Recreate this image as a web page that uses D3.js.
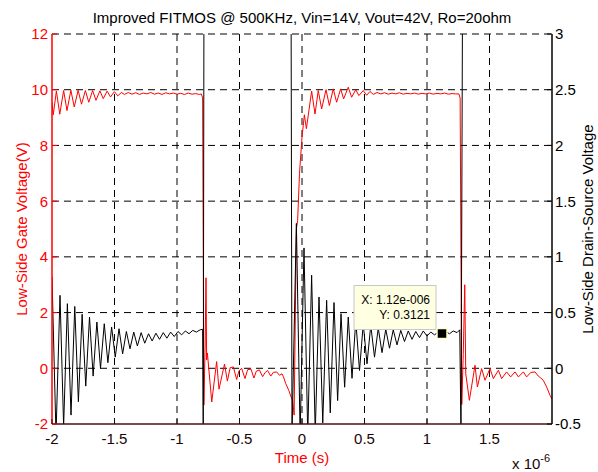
<!DOCTYPE html>
<html>
<head>
<meta charset="utf-8">
<script src="https://cdn.jsdelivr.net/npm/d3@7"></script>
<style>
  body { margin: 0; background: #fff; }
  svg { display: block; }
</style>
</head>
<body>
<svg></svg>
<script>
// time in microseconds (axis shows x 10^-6)
const gateTime = [
  -2.000, -1.990, -1.965, -1.938, -1.907, -1.880, -1.849, -1.822, -1.791, -1.764,
  -1.733, -1.706, -1.675, -1.648, -1.617, -1.590, -1.559, -1.532, -1.501, -1.474,
  -1.445, -1.420, -1.390, -1.360, -1.330, -1.300, -1.270, -1.240, -1.210, -1.180,
  -1.150, -1.120, -1.090, -1.060, -1.030, -1.000, -0.970, -0.940, -0.910, -0.880,
  -0.850, -0.820, -0.805, -0.795, -0.785, -0.775, -0.768, -0.763, -0.757, -0.722,
  -0.683, -0.664, -0.620, -0.597, -0.575, -0.549, -0.523, -0.505, -0.483, -0.456,
  -0.435, -0.408, -0.385, -0.365, -0.341, -0.315, -0.295, -0.275, -0.250, -0.230,
  -0.203, -0.180, -0.160, -0.149, -0.130, -0.105, -0.090, -0.075, -0.063, -0.045,
  -0.035, -0.020, 0.000, 0.019, 0.035, 0.077, 0.104, 0.130, 0.157, 0.192,
  0.219, 0.250, 0.277, 0.309, 0.333, 0.370, 0.397, 0.430, 0.455, 0.490,
  0.517, 0.544, 0.570, 0.600, 0.630, 0.660, 0.690, 0.720, 0.750, 0.780,
  0.810, 0.840, 0.870, 0.900, 0.930, 0.960, 0.990, 1.020, 1.050, 1.080,
  1.110, 1.140, 1.170, 1.200, 1.230, 1.255, 1.265, 1.278, 1.290, 1.302,
  1.310, 1.339, 1.384, 1.403, 1.437, 1.464, 1.504, 1.531, 1.571, 1.597,
  1.637, 1.669, 1.704, 1.731, 1.771, 1.797, 1.830, 1.864, 1.890, 1.910,
  1.930, 1.957, 1.984, 2.000
];
const gateVolt = [
  9.55, 9.10, 9.95, 9.12, 9.97, 9.25, 9.98, 9.38, 9.98, 9.48,
  9.97, 9.55, 9.97, 9.62, 9.96, 9.68, 9.95, 9.74, 9.93, 9.78,
  9.90, 9.83, 9.90, 9.84, 9.89, 9.83, 9.88, 9.85, 9.90, 9.84,
  9.88, 9.83, 9.89, 9.85, 9.88, 9.84, 9.87, 9.83, 9.88, 9.84,
  9.86, 9.83, 9.85, 9.70, -1.32, 0.80, 3.25, 0.30, 0.55, -1.21,
  0.24, -0.75, 0.15, -0.46, 0.02, 0.05, -0.40, -0.10, 0.00, -0.37,
  -0.05, -0.03, -0.35, -0.10, -0.06, -0.30, -0.15, -0.08, -0.28, -0.15,
  -0.13, -0.25, -0.20, -0.30, -0.55, -0.80, -1.00, -1.15, -1.68, 5.00,
  5.30, 7.00, 8.30, 9.10, 8.60, 9.95, 9.13, 9.97, 9.31, 10.00,
  9.43, 10.03, 9.55, 10.03, 9.67, 10.09, 9.73, 10.00, 9.79, 9.97,
  9.80, 9.94, 9.83, 9.90, 9.85, 9.89, 9.84, 9.88, 9.85, 9.89,
  9.84, 9.87, 9.85, 9.88, 9.84, 9.87, 9.85, 9.88, 9.84, 9.87,
  9.85, 9.88, 9.84, 9.86, 9.85, 9.85, 9.70, -1.30, 0.50, 3.00,
  -0.20, -1.15, 0.11, -0.67, -0.01, -0.43, -0.01, -0.37, -0.07, -0.37,
  -0.13, -0.31, -0.13, -0.31, -0.13, -0.31, -0.15, -0.13, -0.28, -0.35,
  -0.43, -0.67, -0.97, -1.10
];

const vdsTime = [
  -2.000, -1.968, -1.936, -1.907, -1.877, -1.848, -1.818, -1.789, -1.759, -1.730,
  -1.700, -1.671, -1.641, -1.612, -1.582, -1.553, -1.523, -1.494, -1.464, -1.435,
  -1.405, -1.376, -1.346, -1.317, -1.287, -1.258, -1.228, -1.199, -1.169, -1.140,
  -1.110, -1.081, -1.051, -1.022, -0.992, -0.963, -0.933, -0.904, -0.874, -0.845,
  -0.815, -0.795, -0.790, -0.784, -0.088, -0.080, -0.045, -0.015, 0.016, 0.046,
  0.077, 0.106, 0.136, 0.166, 0.197, 0.226, 0.256, 0.285, 0.312, 0.341,
  0.370, 0.400, 0.430, 0.460, 0.490, 0.520, 0.550, 0.580, 0.610, 0.640,
  0.670, 0.700, 0.730, 0.760, 0.790, 0.820, 0.850, 0.880, 0.910, 0.940,
  0.970, 1.000, 1.030, 1.060, 1.090, 1.120, 1.150, 1.180, 1.210, 1.240,
  1.262, 1.272, 1.285, 2.000
];
const vdsVolt = [
  0.82, -0.60, 0.655, -0.52, 0.58, -0.42, 0.555, -0.30, 0.485, -0.16,
  0.46, -0.07, 0.415, 0.00, 0.40, 0.05, 0.37, 0.10, 0.355, 0.13,
  0.33, 0.175, 0.325, 0.20, 0.32, 0.225, 0.31, 0.245, 0.315, 0.26,
  0.32, 0.27, 0.325, 0.285, 0.33, 0.30, 0.335, 0.31, 0.34, 0.325,
  0.345, 0.35, -0.60, 3.60, 3.60, -0.60, 1.30, -0.60, 1.08, -0.60,
  0.835, -0.58, 0.64, -0.49, 0.61, -0.40, 0.59, -0.29, 0.49, -0.17,
  0.46, -0.09, 0.43, -0.02, 0.40, 0.04, 0.385, 0.10, 0.36, 0.14,
  0.35, 0.18, 0.345, 0.21, 0.34, 0.24, 0.335, 0.26, 0.33, 0.275,
  0.335, 0.29, 0.325, 0.30, 0.325, 0.3121, 0.33, 0.31, 0.335, 0.32,
  0.345, -0.60, 3.60, 3.60
];

const xTicks = [-2, -1.5, -1, -0.5, 0, 0.5, 1, 1.5];
const leftTicks = [-2, 0, 2, 4, 6, 8, 10, 12];
const rightTicks = [-0.5, 0, 0.5, 1, 1.5, 2, 2.5, 3];
const tipTime = 1.12, tipValue = 0.3121;

const width = 598, height = 472, margin = { top: 34, right: 46, bottom: 48, left: 52 };
const font = "'Liberation Sans', Arial, Helvetica, sans-serif";

const svg = d3.select("svg")
    .attr("width", width)
    .attr("height", height)
    .style("font-family", font);

const x = d3.scaleLinear().domain([-2, 2]).range([margin.left, width - margin.right]);
const yL = d3.scaleLinear().domain([-2, 12]).range([height - margin.bottom, margin.top]);
const yR = d3.scaleLinear().domain([-0.5, 3]).range([height - margin.bottom, margin.top]);

const x0 = margin.left, x1 = width - margin.right, y0 = margin.top, y1 = height - margin.bottom;

svg.append("clipPath").attr("id", "plot")
  .append("rect").attr("x", x0).attr("y", y0).attr("width", x1 - x0).attr("height", y1 - y0);

// grid
svg.selectAll(".vgrid")
    .data(xTicks.filter(d => d !== -2))
    .join("line")
    .attr("x1", d => x(d)).attr("x2", d => x(d))
    .attr("y1", y0).attr("y2", y1)
    .attr("stroke", "#000")
    .attr("stroke-width", 1)
    .attr("stroke-dasharray", "7,5");

svg.selectAll(".hgrid")
    .data(leftTicks.filter(d => d !== -2))
    .join("line")
    .attr("x1", x0).attr("x2", x1)
    .attr("y1", d => yL(d)).attr("y2", d => yL(d))
    .attr("stroke", "#000")
    .attr("stroke-width", 1)
    .attr("stroke-dasharray", "7,5");

// traces
const gateLine = d3.line().x((d, i) => x(gateTime[i])).y(d => yL(d));
const vdsLine = d3.line().x((d, i) => x(vdsTime[i])).y(d => yR(d));

const plot = svg.append("g").attr("clip-path", "url(#plot)");

plot.append("path")
    .attr("d", gateLine(gateVolt))
    .attr("fill", "none")
    .attr("stroke", "#ff0000")
    .attr("stroke-width", 1);

plot.append("path")
    .attr("d", vdsLine(vdsVolt))
    .attr("fill", "none")
    .attr("stroke", "#000")
    .attr("stroke-width", 1);

// axes lines
svg.append("line")
    .attr("x1", x0).attr("x2", x0).attr("y1", y0).attr("y2", y1)
    .attr("stroke", "#ff0000").attr("stroke-width", 1.5);
svg.append("line")
    .attr("x1", x1).attr("x2", x1).attr("y1", y0).attr("y2", y1)
    .attr("stroke", "#000").attr("stroke-width", 1.5);
svg.append("line")
    .attr("x1", x0).attr("x2", x1).attr("y1", y1).attr("y2", y1)
    .attr("stroke", "#4a1010").attr("stroke-width", 1.5);

// ticks
svg.selectAll(".ltick")
    .data(leftTicks)
    .join("line")
    .attr("x1", x0).attr("x2", x0 + 5)
    .attr("y1", d => yL(d)).attr("y2", d => yL(d))
    .attr("stroke", "#ff0000");
svg.selectAll(".rtick")
    .data(rightTicks)
    .join("line")
    .attr("x1", x1 - 5).attr("x2", x1)
    .attr("y1", d => yR(d)).attr("y2", d => yR(d))
    .attr("stroke", "#000");
svg.selectAll(".btick")
    .data(xTicks)
    .join("line")
    .attr("x1", d => x(d)).attr("x2", d => x(d))
    .attr("y1", y1).attr("y2", y1 - 5)
    .attr("stroke", "#2a0a0a");

// tick labels
svg.selectAll(".llabel")
    .data(leftTicks)
    .join("text")
    .attr("x", x0 - 4)
    .attr("y", d => yL(d))
    .attr("dy", "0.36em")
    .attr("text-anchor", "end")
    .attr("font-size", "15px")
    .attr("fill", "#ff0000")
    .text(d => d);

svg.selectAll(".rlabel")
    .data(rightTicks)
    .join("text")
    .attr("x", x1 + 3)
    .attr("y", d => yR(d))
    .attr("dy", "0.36em")
    .attr("text-anchor", "start")
    .attr("font-size", "15px")
    .attr("fill", "#000")
    .text(d => d);

svg.selectAll(".xlabel")
    .data(xTicks)
    .join("text")
    .attr("x", d => x(d))
    .attr("y", y1 + 20)
    .attr("text-anchor", "middle")
    .attr("font-size", "15px")
    .attr("fill", "#1a0505")
    .text(d => d);

// exponent
const expo = svg.append("text")
    .attr("x", 512)
    .attr("y", 469)
    .attr("font-size", "15px")
    .attr("fill", "#1a0505");
expo.append("tspan").text("x 10");
expo.append("tspan").attr("dy", -7).attr("font-size", "11px").text("-6");

// titles
svg.append("text")
    .attr("x", (x0 + x1) / 2)
    .attr("y", 23)
    .attr("text-anchor", "middle")
    .attr("font-size", "15px")
    .attr("fill", "#000")
    .text("Improved FITMOS @ 500KHz, Vin=14V, Vout=42V, Ro=20ohm");

svg.append("text")
    .attr("x", (x0 + x1) / 2)
    .attr("y", 463)
    .attr("text-anchor", "middle")
    .attr("font-size", "15px")
    .attr("fill", "#ff0000")
    .text("Time (s)");

svg.append("text")
    .attr("transform", `translate(27,${(y0 + y1) / 2}) rotate(-90)`)
    .attr("text-anchor", "middle")
    .attr("font-size", "15px")
    .attr("fill", "#ff0000")
    .text("Low-Side Gate Voltage(V)");

svg.append("text")
    .attr("transform", `translate(593,${(y0 + y1) / 2}) rotate(-90)`)
    .attr("text-anchor", "middle")
    .attr("font-size", "15px")
    .attr("fill", "#000")
    .text("Low-Side Drain-Source Voltage");

// data tip
const mx = x(tipTime), my = yR(tipValue);
svg.append("rect")
    .attr("x", mx - 88).attr("y", my - 48)
    .attr("width", 82).attr("height", 44)
    .attr("fill", "#ffffe1")
    .attr("stroke", "#c8c8c8");
svg.append("text")
    .attr("x", mx - 12).attr("y", my - 30)
    .attr("text-anchor", "end")
    .attr("font-size", "12px")
    .attr("fill", "#000")
    .text(`X: ${tipTime.toFixed(2)}e-006`);
svg.append("text")
    .attr("x", mx - 12).attr("y", my - 15)
    .attr("text-anchor", "end")
    .attr("font-size", "12px")
    .attr("fill", "#000")
    .text(`Y: ${tipValue}`);
svg.append("rect")
    .attr("x", mx - 5).attr("y", my - 5)
    .attr("width", 10).attr("height", 10)
    .attr("fill", "#000")
    .attr("stroke", "#ffffcc")
    .attr("stroke-width", 1.5);
</script>
</body>
</html>
